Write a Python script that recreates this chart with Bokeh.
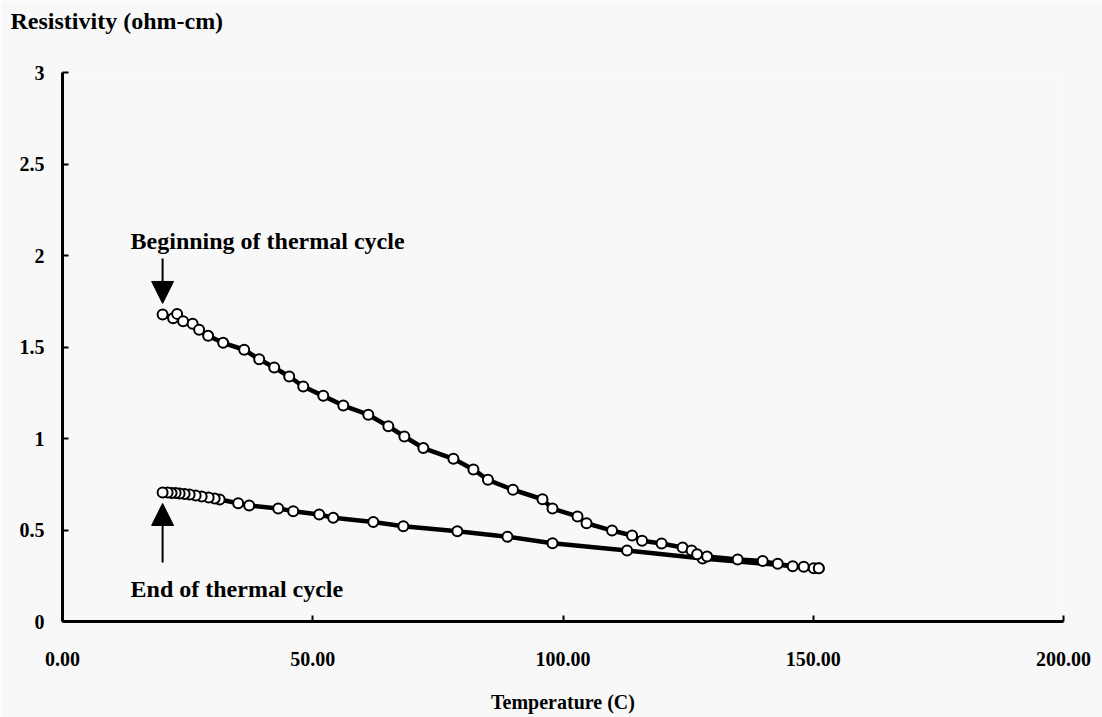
from bokeh.plotting import figure
from bokeh.models import Range1d, NumeralTickFormatter, Label, Arrow, NormalHead, ColumnDataSource, Title
from bokeh.embed import file_html
from bokeh.resources import INLINE

# Heating run (beginning of thermal cycle): temperature (C) and resistivity (ohm-cm)
heat_temp = [20.0, 22.1, 22.9, 24.1, 26.0, 27.3, 29.1, 32.1, 36.3, 39.3, 42.3, 45.3,
             48.1, 52.1, 56.1, 61.1, 65.1, 68.3, 72.1, 78.1, 82.1, 85.0, 90.0, 95.9,
             97.9, 102.9, 104.7, 109.8, 113.8, 115.8, 119.7, 123.9, 125.7, 126.8,
             128.8, 134.9, 139.9, 142.9, 145.9, 148.1, 150.1, 151.1]
heat_res = [1.678, 1.657, 1.681, 1.641, 1.627, 1.594, 1.561, 1.523, 1.485, 1.433, 1.388, 1.339,
            1.284, 1.233, 1.180, 1.130, 1.067, 1.011, 0.948, 0.889, 0.831, 0.774, 0.720, 0.668,
            0.617, 0.574, 0.537, 0.497, 0.470, 0.441, 0.426, 0.404, 0.388, 0.368,
            0.355, 0.339, 0.330, 0.315, 0.302, 0.299, 0.291, 0.291]

# Cooling run (end of thermal cycle)
cool_temp = [151.1, 127.9, 112.8, 97.9, 88.9, 78.9, 68.1, 62.1, 54.1, 51.3, 46.1, 43.1,
             37.3, 35.1, 31.4, 30.4, 29.2, 27.8, 26.6, 25.4, 24.4, 23.4, 22.6, 21.8, 21.0, 20.0]
cool_res = [0.291, 0.344, 0.388, 0.428, 0.463, 0.493, 0.521, 0.544, 0.567, 0.585, 0.603, 0.617,
            0.634, 0.646, 0.667, 0.672, 0.678, 0.683, 0.689, 0.694, 0.697, 0.699, 0.702, 0.702,
            0.705, 0.705]

x_ticks = [0, 50, 100, 150, 200]
y_ticks = [0, 0.5, 1, 1.5, 2, 2.5, 3]

FONT = "Liberation Serif"
FS = "20px"
NOTE_FS = "24px"
BG = "#f8f8f8"

p = figure(width=1102, height=717, output_backend="svg", toolbar_location=None,
           x_range=Range1d(0, 200), y_range=Range1d(0, 3),
           min_border_left=62, min_border_right=39, min_border_top=72, min_border_bottom=96,
           background_fill_color=BG, border_fill_color=BG)
p.outline_line_color = None
p.grid.visible = False

# blank gap between the plot frame and the y-axis caption
p.add_layout(Title(text=" ", text_font=FONT, text_font_size="34px",
                   standoff=0, padding=0), "above")
# y-axis caption sits horizontally above the plot's top-left corner
p.add_layout(Title(text="Resistivity (ohm-cm)", text_font=FONT, text_font_style="bold",
                   text_font_size="24px", text_color="black", align="left",
                   offset=-52, standoff=0, padding=0), "above")

for ax in (p.xaxis[0], p.yaxis[0]):
    ax.axis_line_width = 3
    ax.axis_line_color = "black"
    ax.major_tick_in = 6
    ax.major_tick_out = 0
    ax.major_tick_line_width = 2
    ax.minor_tick_line_color = None
    ax.major_label_text_font = FONT
    ax.major_label_text_font_style = "bold"
    ax.major_label_text_font_size = FS
    ax.major_label_text_color = "black"

p.xaxis.ticker = x_ticks
p.yaxis.ticker = y_ticks
p.xaxis.formatter = NumeralTickFormatter(format="0.00")
p.yaxis.formatter = NumeralTickFormatter(format="0.[0]")
p.xaxis.major_label_standoff = 30
p.yaxis.major_label_standoff = 18

p.xaxis.axis_label = "Temperature (C)"
p.xaxis.axis_label_text_font = FONT
p.xaxis.axis_label_text_font_style = "bold"
p.xaxis.axis_label_text_font_size = FS
p.xaxis.axis_label_text_color = "black"
p.xaxis.axis_label_standoff = 22

heat = ColumnDataSource(dict(t=heat_temp, r=heat_res))
cool = ColumnDataSource(dict(t=cool_temp, r=cool_res))

for src in (cool, heat):
    p.line("t", "r", source=src, line_color="black", line_width=4.5)
for src in (cool, heat):
    p.scatter("t", "r", source=src, marker="circle", size=10,
              fill_color="white", line_color="black", line_width=2)

p.add_layout(Label(x=13.6, y=2.077, text="Beginning of thermal cycle", text_font=FONT,
                   text_font_style="bold", text_font_size=NOTE_FS, text_color="black",
                   text_baseline="middle"))
p.add_layout(Label(x=13.6, y=0.175, text="End of thermal cycle", text_font=FONT,
                   text_font_style="bold", text_font_size=NOTE_FS, text_color="black",
                   text_baseline="middle"))

p.add_layout(Arrow(x_start=20, y_start=1.984, x_end=20, y_end=1.738, line_width=2,
                   end=NormalHead(size=22, fill_color="black", line_color="black")))
p.add_layout(Arrow(x_start=20, y_start=0.322, x_end=20, y_end=0.645, line_width=2,
                   end=NormalHead(size=22, fill_color="black", line_color="black")))

open("out.html", "w").write(file_html(p, INLINE))
